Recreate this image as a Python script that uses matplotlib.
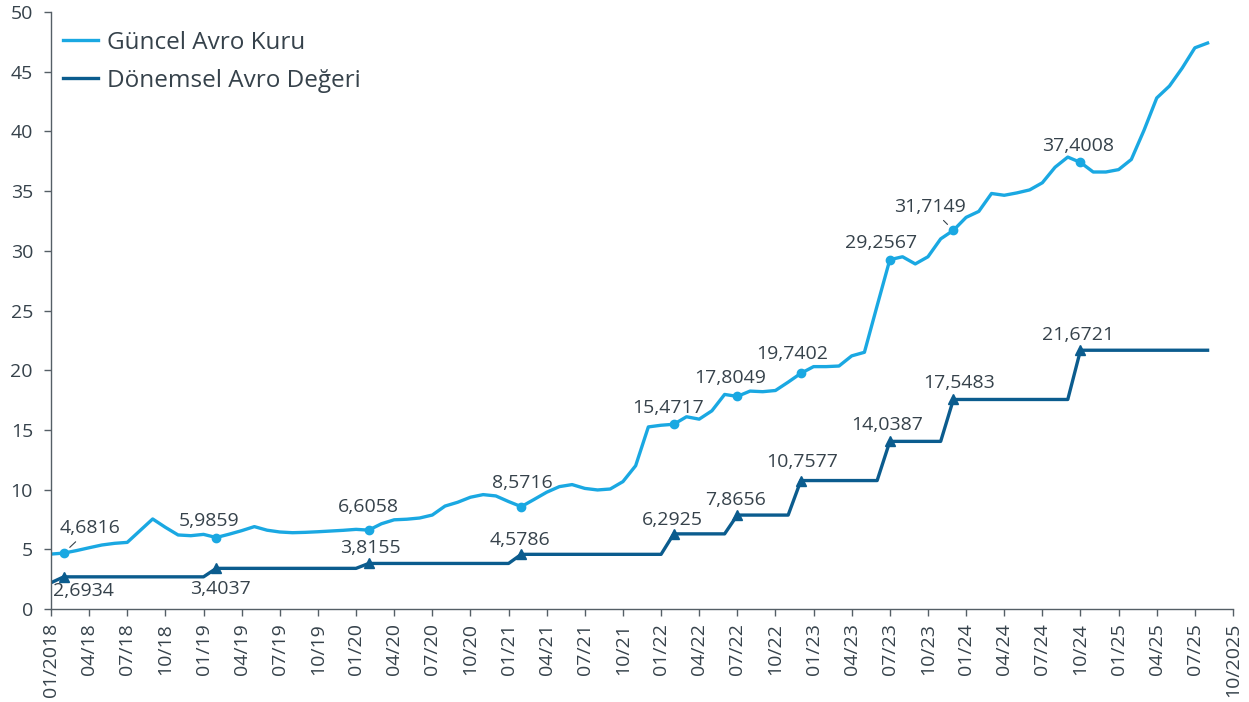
import matplotlib.pyplot as plt
from matplotlib.lines import Line2D

plt.rcParams["font.family"] = ["Open Sans", "DejaVu Sans"]

# month index 0 = 01/2018
tick_labels = [
    "01/2018", "04/18", "07/18", "10/18", "01/19", "04/19", "07/19", "10/19",
    "01/20", "04/20", "07/20", "10/20", "01/21", "04/21", "07/21", "10/21",
    "01/22", "04/22", "07/22", "10/22", "01/23", "04/23", "07/23", "10/23",
    "01/24", "04/24", "07/24", "10/24", "01/25", "04/25", "07/25", "10/2025",
]

# Güncel Avro Kuru, monthly, 01/2018 .. 08/2025
current_rate = [
    4.60, 4.6816, 4.89, 5.13, 5.36, 5.50, 5.58, 6.56, 7.54, 6.84, 6.20, 6.14,
    6.25, 5.9859, 6.26, 6.56, 6.90, 6.60, 6.45, 6.39, 6.42, 6.47, 6.53, 6.59,
    6.67, 6.6058, 7.14, 7.47, 7.52, 7.62, 7.87, 8.62, 8.94, 9.36, 9.58, 9.47,
    9.00, 8.5716, 9.17, 9.78, 10.25, 10.42, 10.10, 9.97, 10.05, 10.67, 12.00, 15.25,
    15.39, 15.4717, 16.10, 15.90, 16.60, 17.97, 17.8049, 18.25, 18.20, 18.30, 19.00, 19.7402,
    20.30, 20.30, 20.35, 21.20, 21.50, 25.40, 29.2567, 29.50, 28.90, 29.50, 31.00, 31.7149,
    32.80, 33.30, 34.80, 34.65, 34.85, 35.10, 35.70, 37.00, 37.85, 37.4008, 36.60, 36.60,
    36.80, 37.65, 40.10, 42.80, 43.80, 45.30, 47.00, 47.40,
]

# Dönemsel Avro Değeri, monthly, same months
period_value = (
    [2.20] + [2.6934] * 12 + [3.4037] * 12 + [3.8155] * 12 + [4.5786] * 12
    + [6.2925] * 5 + [7.8656] * 5 + [10.7577] * 7 + [14.0387] * 5
    + [17.5483] * 10 + [21.6721] * 11
)

# months where a new period starts (labelled points)
period_months = [1, 13, 25, 37, 49, 54, 59, 66, 71, 81]

# label offsets in points (dx, dy) for the current rate and period value labels
rate_offsets = [(19, 18), (-5, 12), (0, 17), (1, 17), (-4, 12), (-5, 13), (-6, 14), (-6, 12), (-17, 17), (-2, 12)]
period_offsets = [(14, -10), (3, -15), (1, 11), (-1, 10), (-1, 10), (-1, 11), (1, 13), (-2, 12), (4, 12), (-2, 11)]
# labels that get a short leader line
leader_months = [1, 71]

LIGHT = "#1AA8E2"
DARK = "#0B5C8E"
TEXT = "#36424B"


def fmt(v):
    return f"{v:.4f}".replace(".", ",")


fig = plt.figure(figsize=(12.49, 7.02), dpi=100)
ax = fig.add_axes([51 / 1249, 1 - 609 / 702, (1233 - 51) / 1249, (609 - 12) / 702])

months = list(range(len(current_rate)))
ax.plot(months, current_rate, color=LIGHT, linewidth=2.4, solid_joinstyle="round")
ax.plot(months, period_value, color=DARK, linewidth=2.4, solid_joinstyle="round")

ax.plot(period_months, [current_rate[m] for m in period_months], "o",
        color=LIGHT, markersize=6)
ax.plot(period_months, [period_value[m] for m in period_months], "^",
        color=DARK, markersize=7)

for m, off in zip(period_months, rate_offsets):
    arrow = None
    if m in leader_months:
        arrow = dict(arrowstyle="-", color=TEXT, lw=0.8, shrinkA=2, shrinkB=6)
    ax.annotate(fmt(current_rate[m]), (m, current_rate[m]), xytext=off,
                textcoords="offset points", ha="center", va="center",
                fontsize=14, color=TEXT, arrowprops=arrow)
for m, off in zip(period_months, period_offsets):
    ax.annotate(fmt(period_value[m]), (m, period_value[m]), xytext=off,
                textcoords="offset points", ha="center", va="center",
                fontsize=14, color=TEXT)

ax.set_xlim(0, 93)
ax.set_ylim(0, 50)
ax.set_xticks(range(0, 94, 3))
ax.set_xticklabels(tick_labels, rotation=90)
ax.set_yticks(range(0, 51, 5))
ax.tick_params(axis="both", colors="#555F66", labelcolor=TEXT, labelsize=14,
               length=5, width=1)
ax.tick_params(axis="y", pad=8)
ax.tick_params(axis="x", pad=5)
for side in ("top", "right"):
    ax.spines[side].set_visible(False)
for side in ("left", "bottom"):
    ax.spines[side].set_color("#555F66")
    ax.spines[side].set_linewidth(1)

handles = [
    Line2D([], [], color=LIGHT, linewidth=2.4),
    Line2D([], [], color=DARK, linewidth=2.4),
]
fig.legend(handles, ["Güncel Avro Kuru", "Dönemsel Avro Değeri"],
           loc="upper left", bbox_to_anchor=(63 / 1249, 1 - 31 / 702),
           frameon=False, fontsize=17.5, labelcolor=TEXT, handlelength=1.44,
           handletextpad=0.37, labelspacing=0.56, borderpad=0, borderaxespad=0)

fig.savefig("out.png", dpi=100)
